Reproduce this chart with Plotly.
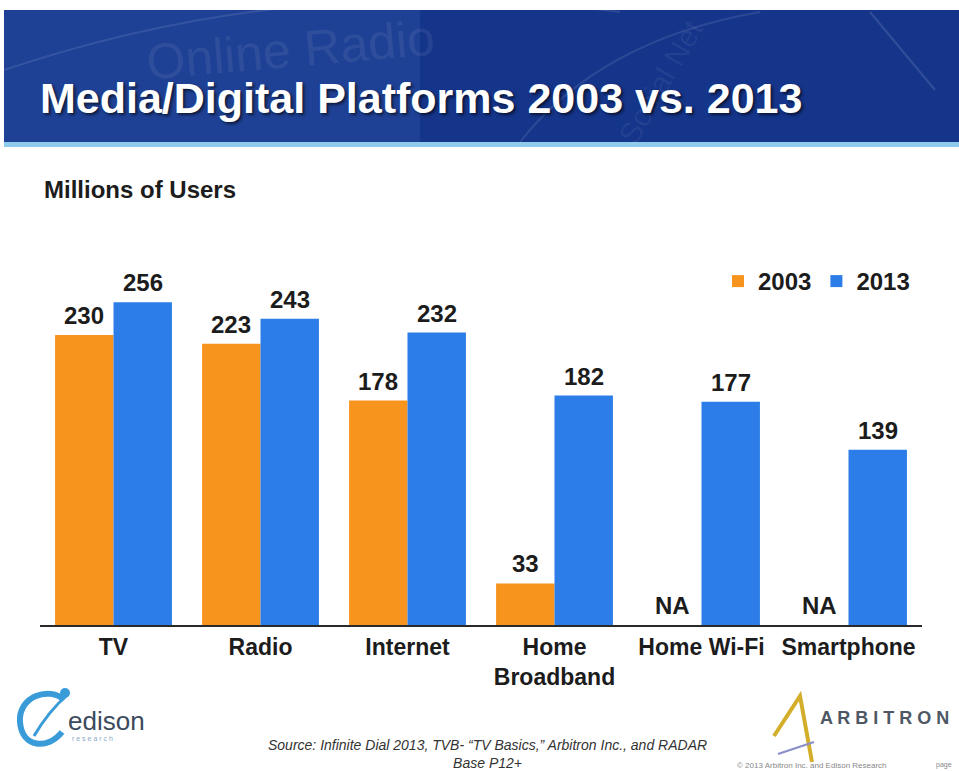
import plotly.graph_objects as go

# ---- data -------------------------------------------------------------
categories = ["TV", "Radio", "Internet", "Home<br>Broadband", "Home Wi-Fi", "Smartphone"]
users_2003 = [230, 223, 178, 33, 0, 0]          # 0 = not available in 2003
labels_2003 = ["230", "223", "178", "33", "NA", "NA"]
users_2013 = [256, 243, 232, 182, 177, 139]
labels_2013 = [str(v) for v in users_2013]
series_names = ["2003", "2013"]

ORANGE = "#F7941E"
BLUE = "#2C7DE8"
FONT = "Liberation Sans, Arial, Helvetica, sans-serif"

W, H = 959, 771
L, R, T, B = 40, 37, 260, 146
PW, PH = W - L - R, H - T - B
BARGAP = 0.205


def px(x):
    return (x - L) / PW


def py(y):
    return (H - B - y) / PH


fig = go.Figure()
fig.add_trace(go.Bar(x=categories, y=users_2003, name=series_names[0],
                     marker=dict(color=ORANGE, line=dict(width=0))))
fig.add_trace(go.Bar(x=categories, y=users_2013, name=series_names[1],
                     marker=dict(color=BLUE, line=dict(width=0))))

shapes = []
annotations = []

# value labels sit above each bar; the shift puts them over their own bar in the group
slot = PW / len(categories)
half_bar = slot * (1 - BARGAP) / 4
for cat, v, lab in zip(categories, users_2003, labels_2003):
    annotations.append(dict(x=cat, y=v, text=f"<b>{lab}</b>", xshift=-half_bar, yshift=4,
                            yanchor="bottom", showarrow=False,
                            font=dict(family=FONT, size=24, color="#1c1c1c")))
for cat, v, lab in zip(categories, users_2013, labels_2013):
    annotations.append(dict(x=cat, y=v, text=f"<b>{lab}</b>", xshift=half_bar, yshift=4,
                            yanchor="bottom", showarrow=False,
                            font=dict(family=FONT, size=24, color="#1c1c1c")))

# header banner
shapes.append(dict(type="rect", xref="paper", yref="paper",
                   x0=px(4), x1=px(959), y0=py(142), y1=py(10),
                   fillcolor="#15358A", line=dict(width=0), layer="below"))
shapes.append(dict(type="rect", xref="paper", yref="paper",
                   x0=px(4), x1=px(420), y0=py(142), y1=py(10),
                   fillcolor="rgba(70,110,190,0.22)", line=dict(width=0), layer="below"))
shapes.append(dict(type="rect", xref="paper", yref="paper",
                   x0=px(4), x1=px(959), y0=py(147), y1=py(142),
                   fillcolor="#8FCBEA", line=dict(width=0), layer="below"))
# faint decorative arcs in the banner
shapes.append(dict(type="path", xref="paper", yref="paper",
                   path=f"M {px(4)} {py(70)} Q {px(300)} {py(-30)} {px(620)} {py(12)}",
                   line=dict(color="rgba(255,255,255,0.10)", width=2), layer="below"))
shapes.append(dict(type="path", xref="paper", yref="paper",
                   path=f"M {px(520)} {py(142)} Q {px(600)} {py(40)} {px(760)} {py(12)}",
                   line=dict(color="rgba(255,255,255,0.10)", width=2), layer="below"))
shapes.append(dict(type="line", xref="paper", yref="paper",
                   x0=px(870), x1=px(935), y0=py(12), y1=py(90),
                   line=dict(color="rgba(255,255,255,0.12)", width=2), layer="below"))

# faint watermark words in the banner
annotations.append(dict(text="Online Radio", xref="paper", yref="paper",
                        x=px(290), y=py(50), xanchor="center", yanchor="middle",
                        showarrow=False, textangle=-5,
                        font=dict(family=FONT, size=50, color="rgba(255,255,255,0.07)")))
annotations.append(dict(text="Social Net", xref="paper", yref="paper",
                        x=px(660), y=py(82), xanchor="center", yanchor="middle",
                        showarrow=False, textangle=-60,
                        font=dict(family=FONT, size=30, color="rgba(255,255,255,0.06)")))

annotations.append(dict(text="<b>Media/Digital Platforms 2003 vs. 2013</b>",
                        xref="paper", yref="paper", x=px(38), y=py(98),
                        xanchor="left", yanchor="middle", showarrow=False,
                        font=dict(family=FONT, size=43, color="white",
                                  shadow="2px 2px 3px rgba(0,0,0,0.6)")))

annotations.append(dict(text="<b>Millions of Users</b>", xref="paper", yref="paper",
                        x=px(42), y=py(190), xanchor="left", yanchor="middle",
                        showarrow=False,
                        font=dict(family=FONT, size=24, color="#1c1c1c")))

# footer: source note
annotations.append(dict(text="<i>Source: Infinite Dial 2013, TVB- \u201cTV Basics,\u201d Arbitron Inc., and RADAR<br>Base P12+</i>",
                        xref="paper", yref="paper", x=px(487), y=py(754),
                        xanchor="center", yanchor="middle", showarrow=False,
                        font=dict(family=FONT, size=14, color="#333333")))
annotations.append(dict(text="\u00a9 2013 Arbitron Inc. and Edison Research",
                        xref="paper", yref="paper", x=px(812), y=py(765),
                        xanchor="center", yanchor="middle", showarrow=False,
                        font=dict(family=FONT, size=8, color="#888888")))
annotations.append(dict(text="page", xref="paper", yref="paper", x=px(934), y=py(765),
                        xanchor="left", yanchor="middle", showarrow=False,
                        font=dict(family=FONT, size=7, color="#888888")))

# edison research mark
shapes.append(dict(type="path", xref="paper", yref="paper",
                   path=(f"M {px(64)} {py(700)} C {px(50)} {py(686)} {px(18)} {py(696)} {px(20)} {py(722)} "
                         f"C {px(22)} {py(748)} {px(48)} {py(750)} {px(62)} {py(732)}"),
                   line=dict(color="#3A9BD9", width=6)))
shapes.append(dict(type="path", xref="paper", yref="paper",
                   path=f"M {px(34)} {py(736)} Q {px(48)} {py(712)} {px(68)} {py(694)}",
                   line=dict(color="#3A9BD9", width=3)))
shapes.append(dict(type="circle", xref="paper", yref="paper",
                   x0=px(60), x1=px(70), y0=py(698), y1=py(688),
                   fillcolor="#3A9BD9", line=dict(width=0)))
annotations.append(dict(text="edison", xref="paper", yref="paper", x=px(66), y=py(721),
                        xanchor="left", yanchor="middle", showarrow=False,
                        font=dict(family=FONT, size=26, color="#3B4A5C")))
annotations.append(dict(text="r e s e a r c h", xref="paper", yref="paper", x=px(70), y=py(738),
                        xanchor="left", yanchor="middle", showarrow=False,
                        font=dict(family=FONT, size=7, color="#8AA9C5")))

# arbitron mark
shapes.append(dict(type="path", xref="paper", yref="paper",
                   path=(f"M {px(774)} {py(736)} L {px(800)} {py(696)} L {px(812)} {py(762)}"),
                   line=dict(color="#D2AE2A", width=4)))
shapes.append(dict(type="line", xref="paper", yref="paper",
                   x0=px(778), x1=px(814), y0=py(754), y1=py(742),
                   line=dict(color="#8B8FC9", width=2)))
annotations.append(dict(text="<b>A R B I T R O N</b>", xref="paper", yref="paper", x=px(818), y=py(718),
                        xanchor="left", yanchor="middle", showarrow=False,
                        font=dict(family=FONT, size=18, color="#4E5864")))

fig.update_layout(
    width=W, height=H,
    margin=dict(l=L, r=R, t=T, b=B, autoexpand=False),
    paper_bgcolor="white", plot_bgcolor="white",
    barmode="group", bargap=BARGAP, bargroupgap=0,
    showlegend=True,
    legend=dict(orientation="h", x=px(718), y=py(259), xanchor="left", yanchor="top",
                font=dict(family=FONT, size=24, color="#1c1c1c", weight="bold"),
                itemwidth=30, traceorder="normal", bgcolor="rgba(0,0,0,0)"),
    font=dict(family=FONT),
    shapes=shapes, annotations=annotations,
    xaxis=dict(showline=True, linecolor="#2a2a2a", linewidth=2, ticks="",
               showgrid=False, zeroline=False, fixedrange=True,
               tickfont=dict(family=FONT, size=23, color="#1c1c1c", weight="bold")),
    yaxis=dict(range=[0, 289.5], visible=False, showgrid=False, zeroline=False),
)

fig.write_html("out.html")
